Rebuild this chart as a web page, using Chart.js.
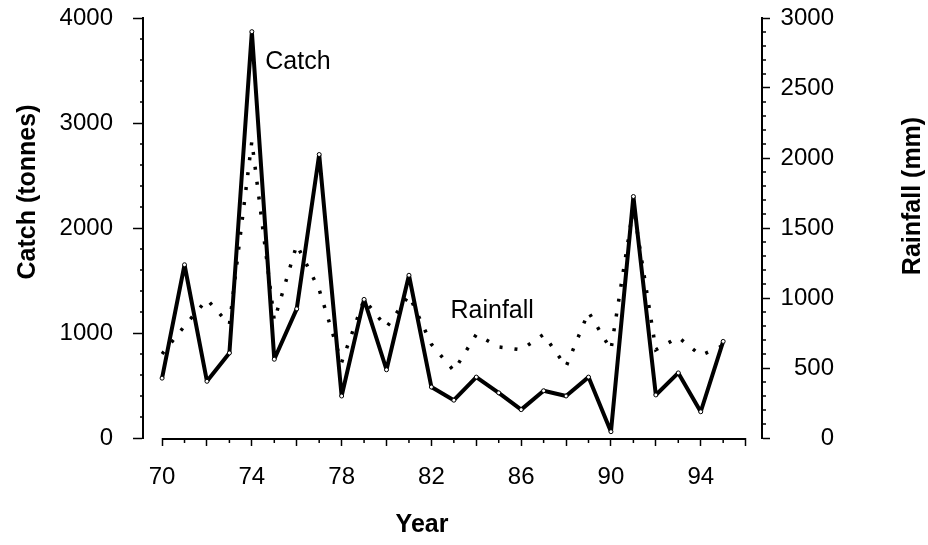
<!DOCTYPE html>
<html>
<head>
<meta charset="utf-8">
<title>Catch and rainfall</title>
<script src="https://cdn.jsdelivr.net/npm/chart.js@4.4.1/dist/chart.umd.min.js"></script>
<style>
  html, body { margin: 0; padding: 0; background: #fff; }
  canvas { display: block; }
</style>
</head>
<body>
<canvas id="catch-chart" width="928" height="545"></canvas>
<script>
// values
const years = [70, 71, 72, 73, 74, 75, 76, 77, 78, 79, 80, 81, 82, 83, 84, 85, 86, 87, 88, 89, 90, 91, 92, 93, 94, 95];
const catchTonnes = [570, 1650, 540, 810, 3870, 750, 1230, 2700, 400, 1320, 650, 1550, 485, 360, 580, 430, 270, 450, 400, 580, 60, 2300, 410, 620, 250, 920];
const rainfallMm = [600, 800, 990, 810, 2120, 840, 1380, 1060, 540, 990, 790, 1020, 670, 480, 740, 650, 630, 740, 510, 900, 630, 1650, 630, 720, 590, 660];

const yearTicks = [70, 72, 74, 76, 78, 80, 82, 84, 86, 88, 90, 92, 94, 96];
const yearLabels = [70, 74, 78, 82, 86, 90, 94];
const catchTicks = [0, 1000, 2000, 3000, 4000];
const rainTicks = [0, 500, 1000, 1500, 2000, 2500, 3000];

Chart.defaults.font.family = '"Liberation Sans", Arial, Helvetica, sans-serif';
Chart.defaults.color = '#000';

// axis line, minor ticks, titles and the two line labels
const extras = {
    id: 'extras',
    afterDraw(chart) {
        const ctx = chart.ctx;
        const x = chart.scales.x;
        const y = chart.scales.y;
        const y1 = chart.scales.y1;
        ctx.save();
        ctx.strokeStyle = '#000';
        ctx.fillStyle = '#000';

        // x axis only runs 70 -> 96
        ctx.lineWidth = 2;
        ctx.beginPath();
        ctx.moveTo(x.getPixelForValue(70), x.top + 1);
        ctx.lineTo(x.getPixelForValue(96), x.top + 1);
        ctx.stroke();

        ctx.lineWidth = 1.5;
        ctx.beginPath();
        for (let v = 71; v < 96; v += 2) {
            const px = x.getPixelForValue(v);
            ctx.moveTo(px, x.top);
            ctx.lineTo(px, x.top + 5);
        }
        for (let v = 200; v < 4000; v += 200) {
            if (v % 1000 === 0) continue;
            const py = y.getPixelForValue(v);
            ctx.moveTo(y.right - 3, py);
            ctx.lineTo(y.right, py);
        }
        for (let v = 100; v < 3000; v += 100) {
            if (v % 500 === 0) continue;
            const py = y1.getPixelForValue(v);
            ctx.moveTo(y1.left, py);
            ctx.lineTo(y1.left + 4, py);
        }
        ctx.stroke();

        // axis titles
        ctx.font = 'bold 25px "Liberation Sans", Arial, sans-serif';
        ctx.textAlign = 'center';
        ctx.textBaseline = 'middle';
        ctx.fillText('Year', 422, 525);
        ctx.save();
        ctx.translate(28, 192);
        ctx.rotate(-Math.PI / 2);
        ctx.fillText('Catch (tonnes)', 0, 0);
        ctx.restore();
        ctx.save();
        ctx.translate(913, 196);
        ctx.rotate(-Math.PI / 2);
        ctx.fillText('Rainfall (mm)', 0, 0);
        ctx.restore();

        // line labels
        ctx.font = '25px "Liberation Sans", Arial, sans-serif';
        ctx.textAlign = 'left';
        ctx.fillText('Catch', x.getPixelForValue(74.6), y.getPixelForValue(3580));
        ctx.fillText('Rainfall', x.getPixelForValue(82.85), y1.getPixelForValue(905));
        ctx.restore();
    }
};

// the original plot frame sits at fixed edges
function fitVertical(width) {
    return scale => {
        scale.width = width;
        scale.paddingTop = 0;
        scale.paddingBottom = 0;
    };
}

new Chart(document.getElementById('catch-chart'), {
    type: 'line',
    data: {
        datasets: [{
            label: 'Rainfall',
            data: years.map((yr, i) => ({x: yr, y: rainfallMm[i]})),
            yAxisID: 'y1',
            borderColor: '#000',
            borderWidth: 3.5,
            borderDash: [3, 12],
            pointRadius: 0,
            tension: 0
        }, {
            label: 'Catch',
            data: years.map((yr, i) => ({x: yr, y: catchTonnes[i]})),
            yAxisID: 'y',
            borderColor: '#000',
            borderWidth: 4,
            borderJoinStyle: 'bevel',
            pointRadius: 2,
            pointBackgroundColor: '#fff',
            pointBorderColor: '#000',
            pointBorderWidth: 1,
            tension: 0
        }]
    },
    options: {
        responsive: false,
        animation: false,
        devicePixelRatio: 1,
        layout: { padding: { top: 18, left: 0, right: 94, bottom: 0 } },
        plugins: {
            legend: { display: false },
            tooltip: { enabled: false }
        },
        scales: {
            x: {
                type: 'linear',
                min: 69.15,
                max: 96.73,
                afterBuildTicks: scale => { scale.ticks = yearTicks.map(v => ({value: v})); },
                afterFit: scale => { scale.height = 107; },
                border: { display: false },
                grid: { drawOnChartArea: false, tickLength: 8, tickWidth: 1.5, tickColor: '#000' },
                ticks: {
                    autoSkip: false,
                    maxRotation: 0,
                    padding: 17,
                    font: { size: 24 },
                    callback: value => yearLabels.includes(value) ? String(value) : ''
                }
            },
            y: {
                position: 'left',
                min: 0,
                max: 4000,
                afterBuildTicks: scale => { scale.ticks = catchTicks.map(v => ({value: v})); },
                afterFit: fitVertical(143),
                border: { display: true, color: '#000', width: 2 },
                grid: { drawOnChartArea: false, tickLength: 10, tickWidth: 1.5, tickColor: '#000' },
                ticks: { padding: 20, font: { size: 24 }, callback: value => String(value) }
            },
            y1: {
                position: 'right',
                min: 0,
                max: 3000,
                afterBuildTicks: scale => { scale.ticks = rainTicks.map(v => ({value: v})); },
                afterFit: fitVertical(72),
                border: { display: true, color: '#000', width: 2 },
                grid: { drawOnChartArea: false, tickLength: 8, tickWidth: 1.5, tickColor: '#000' },
                ticks: { padding: 9, crossAlign: 'far', font: { size: 24 }, callback: value => String(value) }
            }
        }
    },
    plugins: [extras]
});
</script>
</body>
</html>
